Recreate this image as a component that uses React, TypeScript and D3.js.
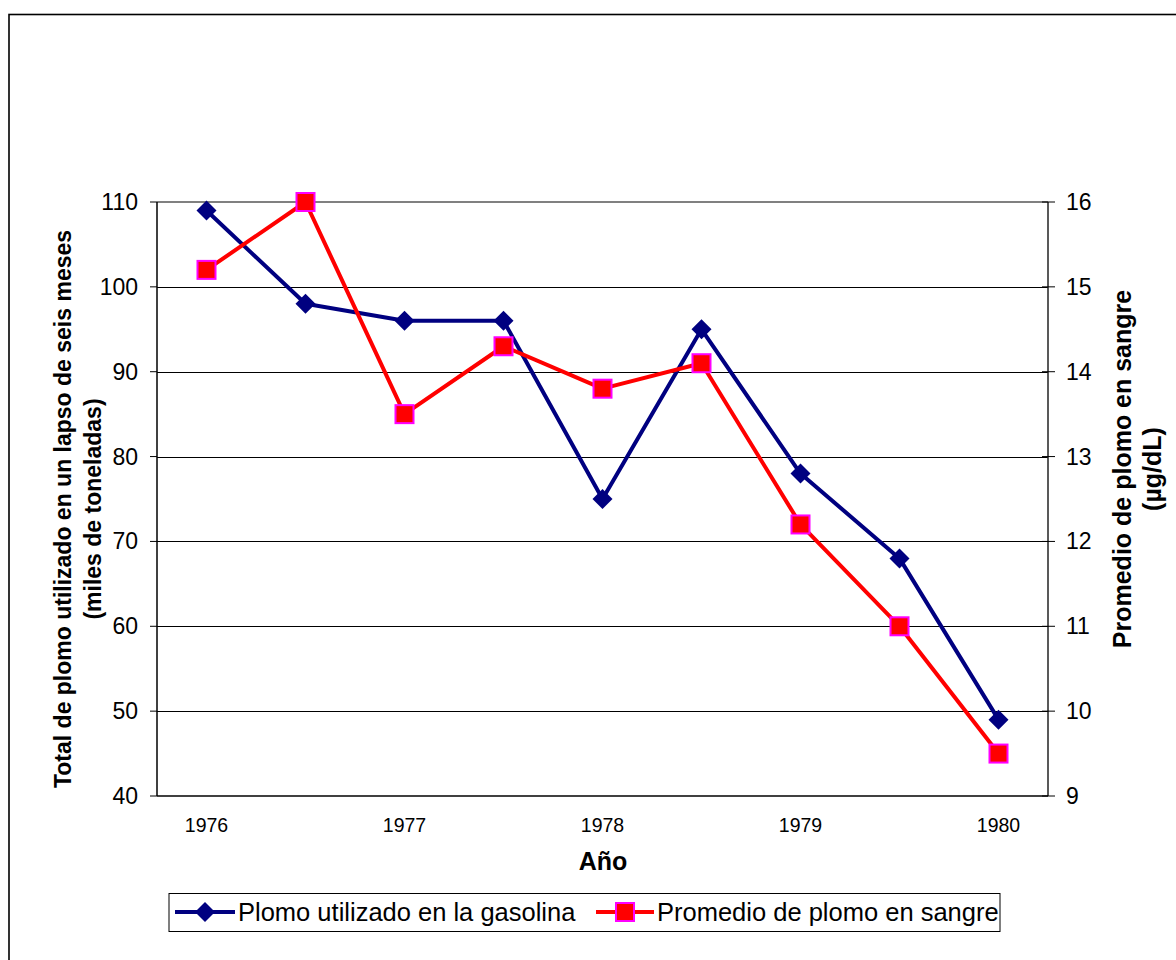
import React from "react";
import * as d3 from "d3";

// Half-year periods from 1976 to 1980; only the whole years are labelled
const periods = ["1976", "1976.5", "1977", "1977.5", "1978", "1978.5", "1979", "1979.5", "1980"];
const yearLabels = ["1976", "1977", "1978", "1979", "1980"];

// Lead used in gasoline (thousand tonnes per six-month span)
const gasolineLead = [109, 98, 96, 96, 75, 95, 78, 68, 49];
// Mean blood lead (µg/dL)
const bloodLead = [15.2, 16.0, 13.5, 14.3, 13.8, 14.1, 12.2, 11.0, 9.5];

const leftTicks = [40, 50, 60, 70, 80, 90, 100, 110];
const rightTicks = [9, 10, 11, 12, 13, 14, 15, 16];

const W = 1176;
const H = 960;
const plot = { left: 157, right: 1048, top: 202, bottom: 796 };
const FONT = "'Liberation Sans', Arial, sans-serif";
const BLUE = "#000080";
const RED = "#FF0000";
const MAGENTA = "#FF00FF";

export default function App() {
  const x = d3
    .scaleBand<string>()
    .domain(periods)
    .range([plot.left, plot.right]);
  const cx = (p: string) => (x(p) as number) + x.bandwidth() / 2;
  const yL = d3.scaleLinear().domain([40, 110]).range([plot.bottom, plot.top]);
  const yR = d3.scaleLinear().domain([9, 16]).range([plot.bottom, plot.top]);

  const blueLine = d3
    .line<number>()
    .x((_, i) => cx(periods[i]))
    .y((d) => yL(d))(gasolineLead) as string;
  const redLine = d3
    .line<number>()
    .x((_, i) => cx(periods[i]))
    .y((d) => yR(d))(bloodLead) as string;

  const diamond = (px: number, py: number, r: number) =>
    `M${px},${py - r}L${px + r},${py}L${px},${py + r}L${px - r},${py}Z`;

  const leftTitleY = 509;
  const rightTitleY = 469;

  return (
    <svg
      width={W}
      height={H}
      style={{ position: "absolute", left: 0, top: 0, background: "#fff" }}
      fontFamily={FONT}
    >
      <rect x={0} y={0} width={W} height={H} fill="#fff" />
      {/* chart frame */}
      <rect x={9} y={14.5} width={W + 20} height={H + 20} fill="none" stroke="#000" strokeWidth={1.6} />

      {/* horizontal gridlines */}
      {leftTicks.slice(1, -1).map((t) => (
        <line key={t} x1={plot.left} x2={plot.right} y1={Math.round(yL(t)) + 0.5} y2={Math.round(yL(t)) + 0.5} stroke="#000" strokeWidth={1} />
      ))}
      <line x1={plot.left} x2={plot.right} y1={plot.top} y2={plot.top} stroke="#808080" strokeWidth={2.2} />

      {/* axes */}
      <line x1={plot.left} x2={plot.left} y1={plot.top} y2={plot.bottom} stroke="#000" strokeWidth={1.5} />
      <line x1={plot.right} x2={plot.right} y1={plot.top} y2={plot.bottom} stroke="#222" strokeWidth={1.5} />
      <line x1={plot.left} x2={plot.right} y1={plot.bottom} y2={plot.bottom} stroke="#000" strokeWidth={1.5} />

      {/* left ticks */}
      {leftTicks.map((t) => (
        <g key={"l" + t}>
          <line x1={plot.left - 7} x2={plot.left} y1={yL(t)} y2={yL(t)} stroke="#000" strokeWidth={1} />
          <text x={138} y={yL(t) + 8} textAnchor="end" fontSize={23} fill="#000">
            {t}
          </text>
        </g>
      ))}
      {/* right ticks */}
      {rightTicks.map((t) => (
        <g key={"r" + t}>
          <line x1={plot.right - 6} x2={plot.right + 7} y1={yR(t)} y2={yR(t)} stroke="#000" strokeWidth={1} />
          <text x={1066} y={yR(t) + 8} textAnchor="start" fontSize={23} fill="#000">
            {t}
          </text>
        </g>
      ))}
      {/* x labels */}
      {yearLabels.map((y) => (
        <text key={y} x={cx(y)} y={832} textAnchor="middle" fontSize={19.5} fill="#000">
          {y}
        </text>
      ))}

      {/* axis titles */}
      <text x={603} y={870} textAnchor="middle" fontSize={25} fontWeight="bold" fill="#000">
        Año
      </text>
      <g transform={`translate(71,${leftTitleY}) rotate(-90)`}>
        <text x={0} y={0} textAnchor="middle" fontSize={23} fontWeight="bold" fill="#000">
          Total de plomo utilizado en un lapso de seis meses
        </text>
        <text x={0} y={30} textAnchor="middle" fontSize={23} fontWeight="bold" fill="#000">
          (miles de toneladas)
        </text>
      </g>
      <g transform={`translate(1131,${rightTitleY}) rotate(-90)`}>
        <text x={0} y={0} textAnchor="middle" fontSize={25} fontWeight="bold" fill="#000">
          Promedio de plomo en sangre
        </text>
        <text x={0} y={30} textAnchor="middle" fontSize={25} fontWeight="bold" fill="#000">
          (µg/dL)
        </text>
      </g>

      {/* gasoline series */}
      <path d={blueLine} fill="none" stroke={BLUE} strokeWidth={4} strokeLinejoin="round" />
      {gasolineLead.map((v, i) => (
        <path key={"d" + i} d={diamond(cx(periods[i]), yL(v), 10)} fill={BLUE} />
      ))}

      {/* blood series */}
      <path d={redLine} fill="none" stroke={RED} strokeWidth={4} strokeLinejoin="round" />
      {bloodLead.map((v, i) => (
        <rect key={"s" + i} x={cx(periods[i]) - 9} y={yR(v) - 9} width={18} height={18} fill={RED} stroke={MAGENTA} strokeWidth={2} />
      ))}

      {/* legend */}
      <rect x={169} y={893.5} width={831} height={38} fill="#fff" stroke="#000" strokeWidth={1} />
      <line x1={175} x2={235} y1={912} y2={912} stroke={BLUE} strokeWidth={4} />
      <path d={diamond(205, 912, 10)} fill={BLUE} />
      <text x={238} y={921} fontSize={25.5} fill="#000">
        Plomo utilizado en la gasolina
      </text>
      <line x1={596} x2={654} y1={912} y2={912} stroke={RED} strokeWidth={4} />
      <rect x={616} y={903} width={18} height={18} fill={RED} stroke={MAGENTA} strokeWidth={2} />
      <text x={657} y={921} fontSize={25.5} fill="#000">
        Promedio de plomo en sangre
      </text>
    </svg>
  );
}
